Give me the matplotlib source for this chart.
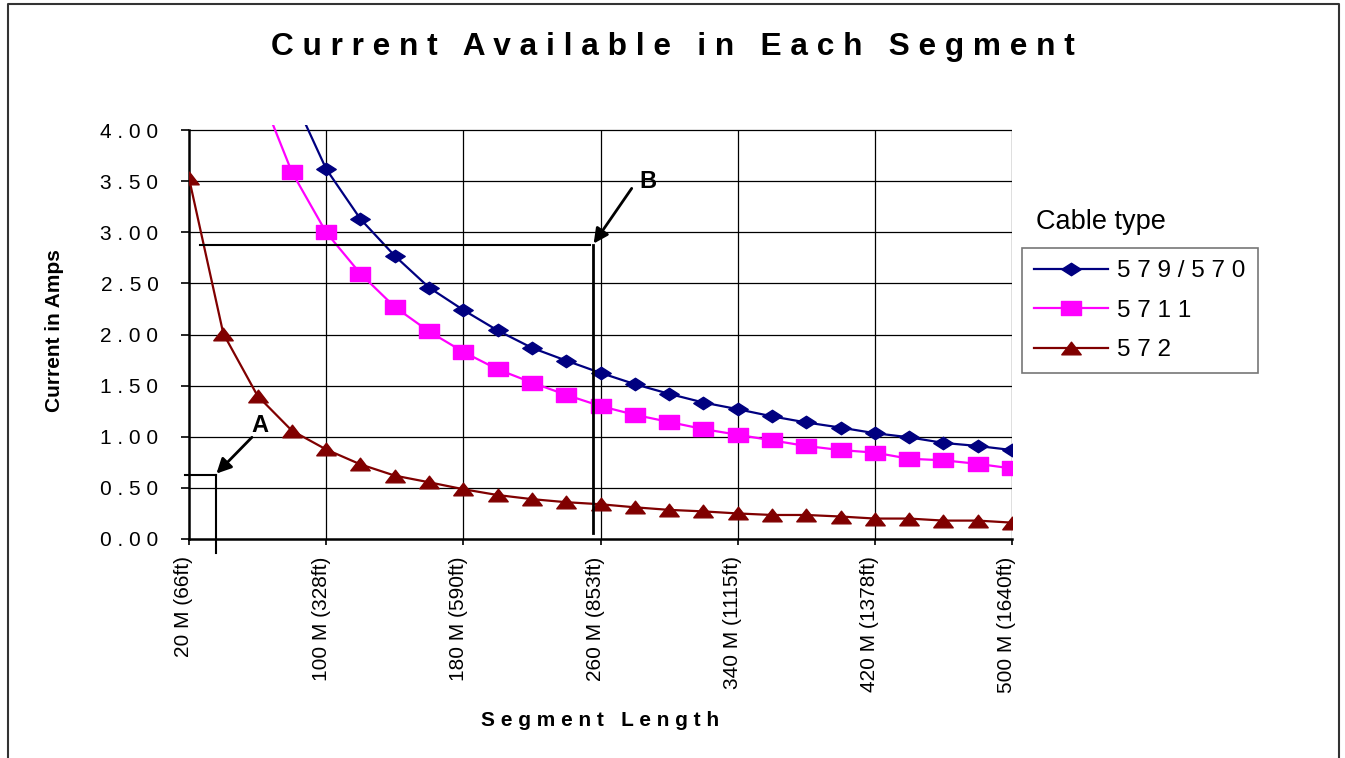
import matplotlib
matplotlib.use('Agg')
import matplotlib.pyplot as plt
import matplotlib.transforms as mtransforms
from matplotlib.lines import Line2D
from matplotlib.path import Path
import numpy as np

# ---------------- data ----------------
lengths_m = [20, 40, 60, 80, 100, 120, 140, 160, 180, 200, 220, 240, 260,
             280, 300, 320, 340, 360, 380, 400, 420, 440, 460, 480, 500]
tick_labels = ["20 M (66ft)", "100 M (328ft)", "180 M (590ft)", "260 M (853ft)",
               "340 M (1115ft)", "420 M (1378ft)", "500 M (1640ft)"]
y_ticks = [0.0, 0.5, 1.0, 1.5, 2.0, 2.5, 3.0, 3.5, 4.0]

s579_570 = [18.1, 9.05, 6.0, 4.35, 3.62, 3.13, 2.77, 2.46, 2.24, 2.04, 1.87, 1.745,
            1.625, 1.515, 1.42, 1.335, 1.27, 1.20, 1.14, 1.09, 1.035, 0.995, 0.94,
            0.91, 0.87]
s5711 = [14.3, 7.2, 4.43, 3.59, 3.00, 2.595, 2.27, 2.03, 1.83, 1.66, 1.53, 1.41,
         1.30, 1.215, 1.145, 1.075, 1.02, 0.965, 0.91, 0.87, 0.845, 0.785, 0.77,
         0.735, 0.69]
s572 = [3.53, 2.01, 1.40, 1.06, 0.876, 0.73, 0.62, 0.555, 0.487, 0.43, 0.39, 0.36,
        0.34, 0.31, 0.285, 0.27, 0.25, 0.235, 0.235, 0.22, 0.20, 0.20, 0.18, 0.18,
        0.16]
series_names = ["579/570", "5711", "572"]
series_colors = ["#000080", "#FF00FF", "#800000"]

plt.rcParams['font.family'] = ['Liberation Sans', 'DejaVu Sans']


def spaced(s):
    return '   '.join(' '.join(w) for w in s.split(' '))


W, H = 1345, 758
fig = plt.figure(figsize=(W / 100, H / 100), dpi=100)
ax = fig.add_axes([189 / W, 1 - 539 / H, (1012 - 189) / W, (539 - 125) / H])

x = np.arange(len(lengths_m))

diamond = Path([(-1, 0), (0, 0.64), (1, 0), (0, -0.64), (-1, 0)], closed=True)
square = Path([(-1, -0.7), (1, -0.7), (1, 0.7), (-1, 0.7), (-1, -0.7)], closed=True)
triangle = Path([(-1, -0.65), (1, -0.65), (0, 0.65), (-1, -0.65)], closed=True)
markers = [diamond, square, triangle]

for vals, name, col, mk in zip([s579_570, s5711, s572], series_names, series_colors, markers):
    ax.plot(x, vals, color=col, lw=1.6, marker=mk, ms=14, mfc=col, mec=col,
            label=spaced(name), zorder=4)

ax.set_xlim(0, 24)
ax.set_ylim(0, 4.05)

# gridlines
ax.hlines(y_ticks[1:], 0, 24, colors='black', lw=0.9, zorder=1)
ax.vlines(x[4::4], 0, 4.0, colors='black', lw=0.9, zorder=1)

for s in ['top', 'right']:
    ax.spines[s].set_visible(False)
ax.spines['left'].set_bounds(0, 4.0)
ax.spines['left'].set_linewidth(1.8)
ax.spines['bottom'].set_linewidth(1.8)

ax.set_yticks(y_ticks)
ax.set_yticklabels([spaced(f"{v:.2f}") for v in y_ticks], fontsize=15)
ax.tick_params(axis='y', length=6, width=1.2, pad=16)

ax.set_xticks(x[::4])
ax.set_xticklabels(tick_labels, rotation=90, fontsize=15, va='top', ha='center')
ax.tick_params(axis='x', length=4.5, width=1.2, pad=8)
off = mtransforms.ScaledTranslation(-0.05, 0, fig.dpi_scale_trans)
for lab in ax.get_xticklabels():
    lab.set_transform(lab.get_transform() + off)

# annotations A and B
ax.plot([-0.12, 0.787], [0.626, 0.626], color='black', lw=1.5, clip_on=False, zorder=5)
ax.plot([0.787, 0.787], [0.626, -0.14], color='black', lw=1.5, clip_on=False, zorder=5)
ax.plot([0.32, 11.69], [2.875, 2.875], color='black', lw=1.5, clip_on=False, zorder=5)
ax.plot([11.79, 11.79], [2.875, 0.06], color='black', lw=2.0, clip_on=False, zorder=5)

arrowprops = dict(arrowstyle='-|>', color='black', lw=2, mutation_scale=22,
                  shrinkA=0, shrinkB=0)
ax.annotate('', xy=(0.80, 0.64), xytext=(1.835, 0.995), arrowprops=arrowprops, zorder=6)
ax.annotate('', xy=(11.80, 2.89), xytext=(12.91, 3.43), arrowprops=arrowprops, zorder=6)
ax.text(2.07, 1.115, 'A', fontsize=17, fontweight='bold', ha='center', va='center')
ax.text(13.39, 3.494, 'B', fontsize=17, fontweight='bold', ha='center', va='center')

# legend
leg = ax.legend(loc='upper left', bbox_to_anchor=(1022 / W, 1 - 248 / H),
                bbox_transform=fig.transFigure, borderaxespad=0, frameon=True,
                fancybox=False, edgecolor='#555555', prop={'size': 17.5},
                handlelength=3.05, handletextpad=0.37, borderpad=0.5,
                labelspacing=0.72, numpoints=1)
leg.get_frame().set_linewidth(1.2)
fig.text(1036 / W, 1 - 222 / H, 'Cable type', fontsize=19.5, ha='left', va='center')

# titles
fig.text(0.5, 1 - 47 / H, spaced('Current Available in Each Segment'), fontsize=22.8,
         fontweight='bold', ha='center', va='center')
fig.text(600 / W, 1 - 720 / H, spaced('Segment Length'), fontsize=15,
         fontweight='bold', ha='center', va='center')
fig.text(55 / W, 1 - 331 / H, 'Current in Amps', rotation=90, fontsize=15,
         fontweight='bold', ha='center', va='center')

# outer border
fig.add_artist(Line2D([8 / W, 8 / W, 1339 / W, 1339 / W], [0, 1 - 4 / H, 1 - 4 / H, 0],
                      transform=fig.transFigure, color='#333333', lw=1.5))

fig.savefig('out.png', dpi=100)
